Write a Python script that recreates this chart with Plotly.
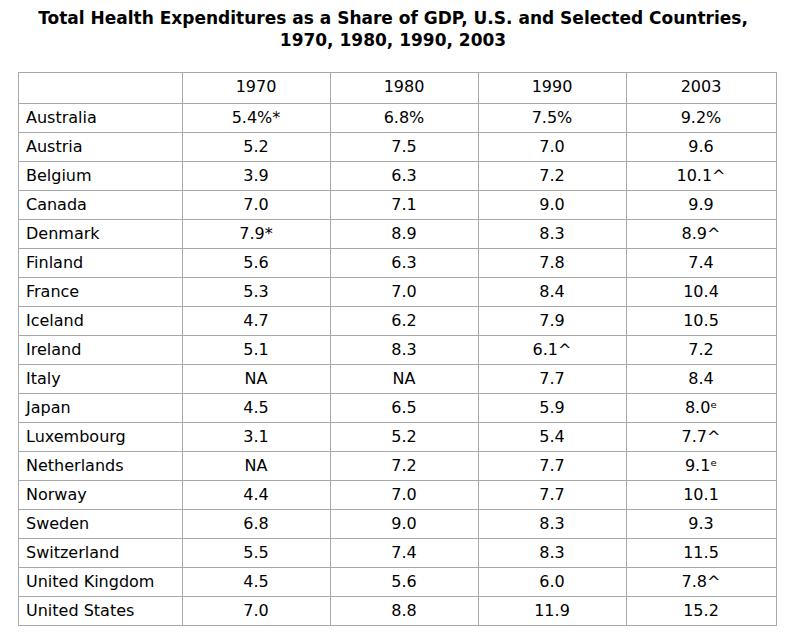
import plotly.graph_objects as go

countries = ["Australia", "Austria", "Belgium", "Canada", "Denmark", "Finland", "France",
             "Iceland", "Ireland", "Italy", "Japan", "Luxembourg", "Netherlands", "Norway",
             "Sweden", "Switzerland", "United Kingdom", "United States"]
years = ["1970", "1980", "1990", "2003"]
v1970 = ["5.4%*", "5.2", "3.9", "7.0", "7.9*", "5.6", "5.3", "4.7", "5.1", "NA", "4.5", "3.1",
         "NA", "4.4", "6.8", "5.5", "4.5", "7.0"]
v1980 = ["6.8%", "7.5", "6.3", "7.1", "8.9", "6.3", "7.0", "6.2", "8.3", "NA", "6.5", "5.2",
         "7.2", "7.0", "9.0", "7.4", "5.6", "8.8"]
v1990 = ["7.5%", "7.0", "7.2", "9.0", "8.3", "7.8", "8.4", "7.9", "6.1^", "7.7", "5.9", "5.4",
         "7.7", "7.7", "8.3", "8.3", "6.0", "11.9"]
v2003 = ["9.2%", "9.6", "10.1^", "9.9", "8.9^", "7.4", "10.4", "10.5", "7.2", "8.4", "8.0\u1d49",
         "7.7^", "9.1\u1d49", "10.1", "9.3", "11.5", "7.8^", "15.2"]

title = "<b>Total Health Expenditures as a Share of GDP, U.S. and Selected Countries,<br>1970, 1980, 1990, 2003</b>"

# page has an 8px body margin, so the figure origin sits at (8, 8)
OFF = 8
W, H = 786 - 2 * OFF, 635 - 2 * OFF
font = dict(family="DejaVu Sans, Verdana, sans-serif", size=16, color="#000000")
line = dict(color="#a8a8a8", width=1)

fig = go.Figure(go.Table(
    domain=dict(x=[(18 - OFF) / W, (776 - OFF) / W], y=[0, 1 - (72 - OFF) / H]),
    columnwidth=[164, 148, 148, 148, 150],
    header=dict(values=[""] + years, height=31, align=["left", "center"],
                fill_color="white", line=line, font=font),
    cells=dict(values=[countries, v1970, v1980, v1990, v2003], height=29,
               align=["left", "center"], fill_color="white", line=line, font=font),
))

fig.update_layout(
    width=W, height=H, margin=dict(l=0, r=0, t=0, b=0),
    paper_bgcolor="white", plot_bgcolor="white",
    title=dict(text=title, x=0.5, xanchor="center", y=1 - (24 - OFF) / H, yanchor="middle",
               font=dict(family="DejaVu Sans, Verdana, sans-serif", size=17, color="#000000")),
)

fig.write_html("out.html")
